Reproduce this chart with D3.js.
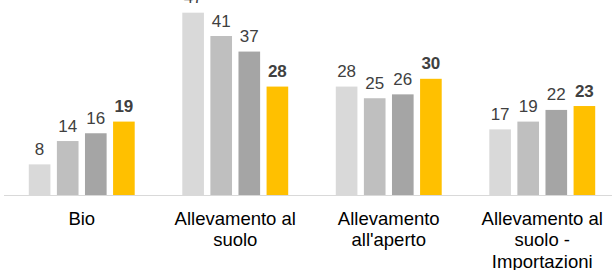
<!DOCTYPE html>
<html>
<head>
<meta charset="utf-8">
<script src="https://cdn.jsdelivr.net/npm/d3@7"></script>
<style>
    body { margin: 0; background: #fff; }
    text { font-family: "Liberation Sans", Arial, sans-serif; }
</style>
</head>
<body>
<svg id="chart"></svg>
<script>
const categories = ["Bio", "Allevamento al\nsuolo", "Allevamento\nall'aperto", "Allevamento al\nsuolo -\nImportazioni"];
const seriesNames = ["s1", "s2", "s3", "s4"];
const s1 = [8, 47, 28, 17];
const s2 = [14, 41, 25, 19];
const s3 = [16, 37, 26, 22];
const s4 = [19, 28, 30, 23];
const seriesColors = ["#d9d9d9", "#bfbfbf", "#a5a5a5", "#ffc000"];

class GroupedBarChart {

    constructor(config, data) {
        this.config = {
            parent: config.parent,
            width: config.width || 612,
            height: config.height || 270,
            baseline: config.baseline || 195.5
        };
        this.data = data;
        this.init();
    }

    init() {
        let self = this;

        self.svg = d3.select(self.config.parent)
            .attr('width', self.config.width)
            .attr('height', self.config.height);

        self.x = d3.scaleBand()
            .domain(categories)
            .range([5, 619])
            .paddingInner(0.31)
            .paddingOuter(0.155);

        self.xs = d3.scaleBand()
            .domain(seriesNames)
            .range([0, self.x.bandwidth()])
            .paddingInner(0.23);

        self.y = d3.scaleLinear()
            .domain([0, 50])
            .range([self.config.baseline, 1]);

        self.color = d3.scaleOrdinal()
            .domain(seriesNames)
            .range(seriesColors);
    }

    render() {
        let self = this;

        let groups = self.svg.selectAll('g.group')
            .data(self.data).enter()
            .append('g')
            .attr('class', 'group')
            .attr('transform', d => `translate(${self.x(d.category)},0)`);

        let cells = groups.selectAll('g.cell')
            .data(d => d.values).enter()
            .append('g')
            .attr('class', 'cell');

        cells.append('rect')
            .attr('x', d => self.xs(d.series))
            .attr('width', self.xs.bandwidth())
            .attr('y', d => self.y(d.value))
            .attr('height', d => self.y(0) - self.y(d.value))
            .attr('fill', d => self.color(d.series));

        cells.append('text')
            .attr('x', d => self.xs(d.series) + self.xs.bandwidth() / 2)
            .attr('y', d => self.y(d.value) - 9.5)
            .attr('text-anchor', 'middle')
            .style('font-size', '17px')
            .style('font-weight', d => d.series === 's4' ? 'bold' : 'normal')
            .attr('fill', '#404040')
            .text(d => d.value);

        // baseline
        self.svg.append('line')
            .attr('x1', 4)
            .attr('x2', self.config.width)
            .attr('y1', self.y(0))
            .attr('y2', self.y(0))
            .attr('stroke', '#d9d9d9')
            .attr('stroke-width', 1.2);

        let labels = self.svg.selectAll('text.cat')
            .data(categories).enter()
            .append('text')
            .attr('class', 'cat')
            .attr('text-anchor', 'middle')
            .attr('fill', '#000')
            .style('font-size', '18.5px');

        labels.selectAll('tspan')
            .data(d => d.split('\n').map(l => ({ line: l, cat: d }))).enter()
            .append('tspan')
            .attr('x', d => self.x(d.cat) + self.x.bandwidth() / 2)
            .attr('y', (d, i) => self.y(0) + 29 + i * 21.7)
            .text(d => d.line);
    }
}

const rows = categories.map((c, i) => ({
    category: c,
    values: [s1, s2, s3, s4].map((s, j) => ({ series: seriesNames[j], value: s[i] }))
}));

const chart = new GroupedBarChart({ parent: '#chart' }, rows);
chart.render();
</script>
</body>
</html>
